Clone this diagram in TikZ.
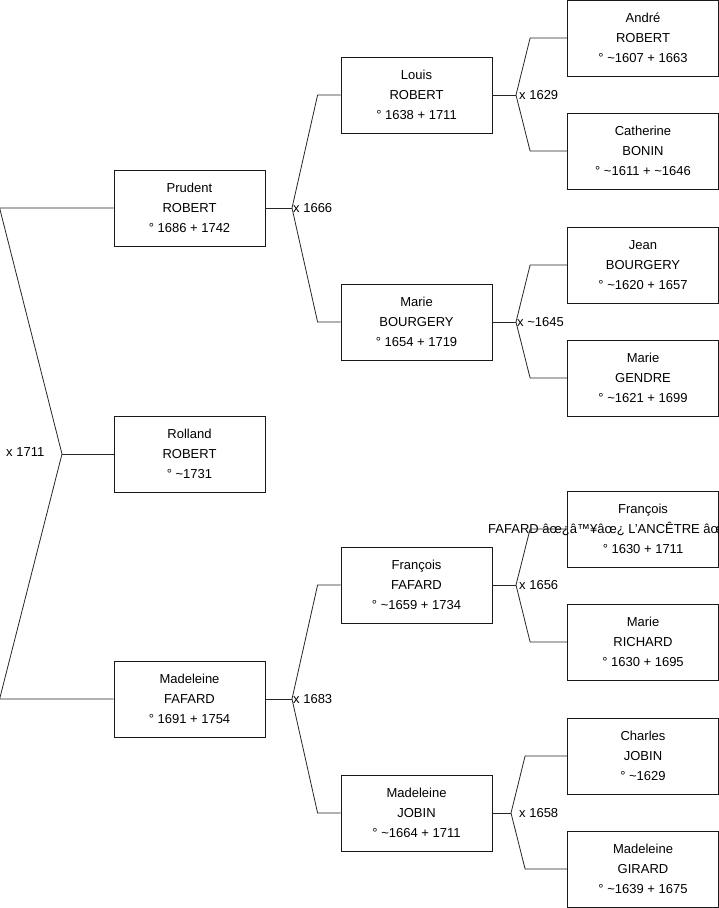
\documentclass[tikz,border=0pt]{standalone}
\usepackage{fontspec}
\setmainfont{Liberation Sans}
\usepackage{tikz}
\usepackage{xcolor}

\tikzset{
  personbox/.style={draw=black!90,line width=0.8pt,fill=white,minimum width=151pt,minimum height=76pt,
    align=center,inner sep=0pt,font=\fontsize{13}{20}\selectfont},
  link/.style={draw=black!85,line width=0.8pt},
  wedlock/.style={anchor=west,inner sep=1pt,font=\fontsize{13}{15}\selectfont}
}

\begin{document}
\begin{tikzpicture}[x=1pt,y=-1pt]
\useasboundingbox (0,0) rectangle (719,908);
% first generation
\node[personbox] (prudent) at (189.5,208) {Prudent\\ROBERT\\° 1686 + 1742};
\node[personbox] (rolland) at (189.5,454) {Rolland\\ROBERT\\° \textasciitilde1731};
\node[personbox] (madfafard) at (189.5,699) {Madeleine\\FAFARD\\° 1691 + 1754};
% second generation
\node[personbox] (louis) at (416.5,95) {Louis\\ROBERT\\° 1638 + 1711};
\node[personbox] (mbourgery) at (416.5,322) {Marie\\BOURGERY\\° 1654 + 1719};
\node[personbox] (ffafard) at (416.5,585) {François\\FAFARD\\° \textasciitilde1659 + 1734};
\node[personbox] (mjobin) at (416.5,813) {Madeleine\\JOBIN\\° \textasciitilde1664 + 1711};
% third generation
\node[personbox] (andre) at (643,38) {André\\ROBERT\\° \textasciitilde1607 + 1663};
\node[personbox] (catherine) at (643,151) {Catherine\\BONIN\\° \textasciitilde1611 + \textasciitilde1646};
\node[personbox] (jean) at (643,265) {Jean\\BOURGERY\\° \textasciitilde1620 + 1657};
\node[personbox] (mgendre) at (643,378) {Marie\\GENDRE\\° \textasciitilde1621 + 1699};
\node[personbox] (francois) at (643,529) {François\\\hspace*{-12pt}\makebox[0pt]{FAFARD âœ¿â™¥âœ¿ L'ANCÊTRE âœ¿â™¥âœ¿}\\° 1630 + 1711};
\node[personbox] (mrichard) at (643,642) {Marie\\RICHARD\\° 1630 + 1695};
\node[personbox] (charles) at (643,756) {Charles\\JOBIN\\° \textasciitilde1629};
\node[personbox] (mgirard) at (643,869) {Madeleine\\GIRARD\\° \textasciitilde1639 + 1675};

% junctions
\coordinate (j1711) at (62,454);
\coordinate (j1666) at (292,208);
\coordinate (j1683) at (292,699);
\coordinate (j1629) at (516,95);
\coordinate (j1645) at (516,322);
\coordinate (j1656) at (516,585);
\coordinate (j1658) at (511,813);

% links
\draw[link] (rolland.west) -- (j1711);
\draw[link] (j1711) -- ([xshift=-114pt]prudent.west) -- (prudent.west);
\draw[link] (j1711) -- ([xshift=-114pt]madfafard.west) -- (madfafard.west);
\node[wedlock] at (5,452) {x 1711};
\draw[link] (prudent.east) -- (j1666);
\draw[link] (j1666) -- ([xshift=-23pt]louis.west) -- (louis.west);
\draw[link] (j1666) -- ([xshift=-23pt]mbourgery.west) -- (mbourgery.west);
\node[wedlock] at (j1666) {x 1666};
\draw[link] (madfafard.east) -- (j1683);
\draw[link] (j1683) -- ([xshift=-23pt]ffafard.west) -- (ffafard.west);
\draw[link] (j1683) -- ([xshift=-23pt]mjobin.west) -- (mjobin.west);
\node[wedlock] at (j1683) {x 1683};
\draw[link] (louis.east) -- (j1629);
\draw[link] (j1629) -- ([xshift=-37pt]andre.west) -- (andre.west);
\draw[link] (j1629) -- ([xshift=-37pt]catherine.west) -- (catherine.west);
\node[wedlock] at ([xshift=2pt]j1629) {x 1629};
\draw[link] (mbourgery.east) -- (j1645);
\draw[link] (j1645) -- ([xshift=-37pt]jean.west) -- (jean.west);
\draw[link] (j1645) -- ([xshift=-37pt]mgendre.west) -- (mgendre.west);
\node[wedlock] at (j1645) {x \textasciitilde1645};
\draw[link] (ffafard.east) -- (j1656);
\draw[link] (j1656) -- ([xshift=-37pt]francois.west) -- (francois.west);
\draw[link] (j1656) -- ([xshift=-37pt]mrichard.west) -- (mrichard.west);
\node[wedlock] at ([xshift=2pt]j1656) {x 1656};
\draw[link] (mjobin.east) -- (j1658);
\draw[link] (j1658) -- ([xshift=-42pt]charles.west) -- (charles.west);
\draw[link] (j1658) -- ([xshift=-42pt]mgirard.west) -- (mgirard.west);
\node[wedlock] at ([xshift=7pt]j1658) {x 1658};
\end{tikzpicture}
\end{document}
